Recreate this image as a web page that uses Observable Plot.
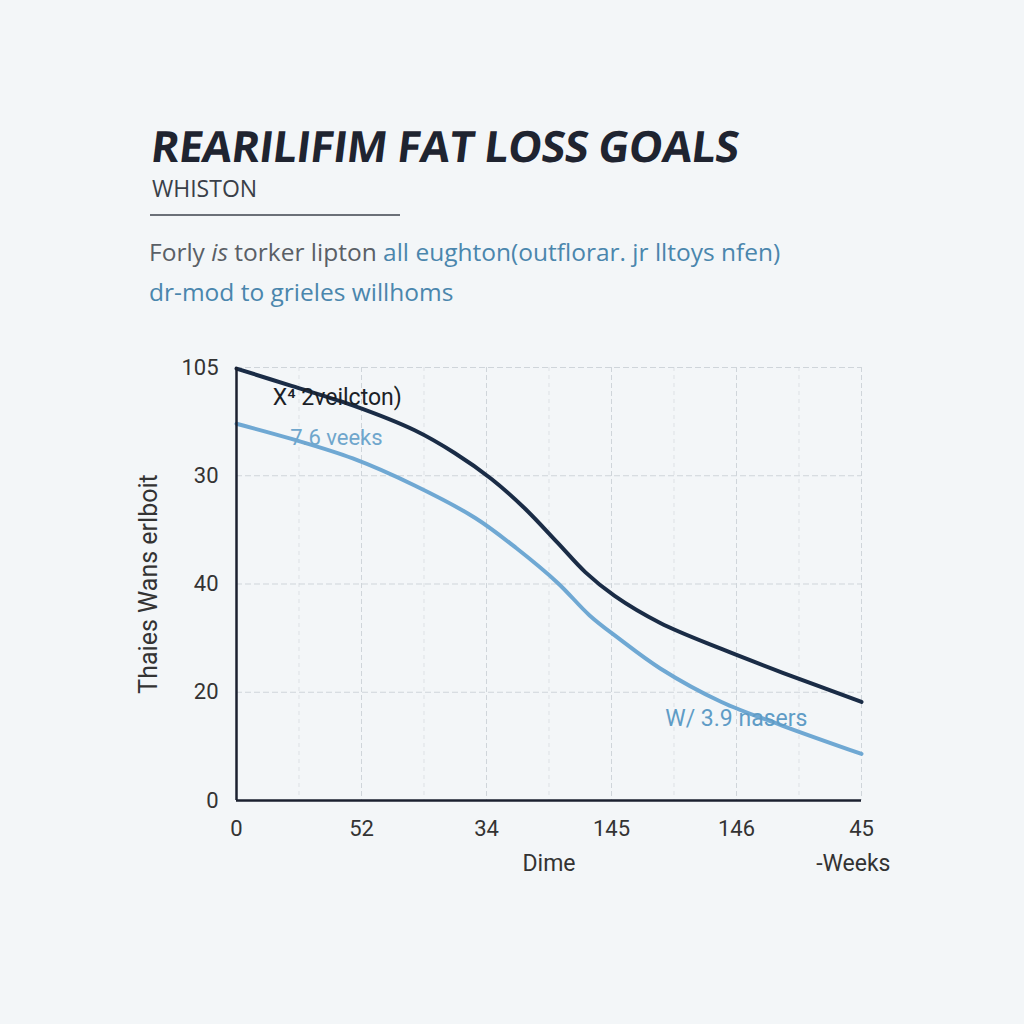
<!DOCTYPE html>
<html><head><meta charset="utf-8">
<script src="https://cdn.jsdelivr.net/npm/d3@7"></script>
<script src="https://cdn.jsdelivr.net/npm/@observablehq/plot@0.6"></script>
<style>
body{margin:0;background:#f3f6f8;width:1024px;height:1024px;overflow:hidden;font-family:"Open Sans",sans-serif}
#head{position:relative;height:340px}
#head div{position:absolute;white-space:nowrap}
.title{left:148px;top:116px;font-size:43px;font-weight:700;color:#1f2430;letter-spacing:-0.6px;transform:skewX(-7deg);transform-origin:left bottom}
.sub{left:152px;top:172px;font-size:23px;color:#3a3f48}
.rule{left:150px;top:214px;width:250px;height:0;border-top:2px solid #6b7078}
.d1{left:149px;top:235px;font-size:24.5px;color:#5a5f66}
.d2{left:149px;top:275px;font-size:24.5px;color:#4a86ad}
.blue{color:#4a86ad}
#chart svg{display:block}
</style></head><body>
<div id="head">
  <div class="title">REARILIFIM FAT LOSS GOALS</div>
  <div class="sub">WHISTON</div>
  <div class="rule"></div>
  <div class="d1">Forly <i>is</i> torker lipton <span class="blue">all eughton(outflorar. jr lltoys nfen)</span></div>
  <div class="d2">dr-mod to grieles willhoms</div>
</div>
<div id="chart"></div>
<script>
// x tick labels (positions 0..10 on grid, labels on even grid lines)
const xTickPos = [0, 2, 4, 6, 8, 10];
const xTickLabels = ["0", "52", "34", "145", "146", "45"];
// y tick labels (evenly spaced grid rows)
const yTickPos = [0, 1, 2, 3, 4];
const yTickLabels = ["0", "20", "40", "30", "105"];

// Series: dark navy curve
const darkX = [0, 0.88, 1.86, 2.85, 3.49, 4.08, 4.61, 5.14, 5.58, 6.05, 6.78, 7.76, 8.74, 10];
const darkY = [3.99, 3.83, 3.65, 3.42, 3.21, 2.97, 2.70, 2.38, 2.11, 1.89, 1.64, 1.40, 1.18, 0.91];
// Series: light blue curve
const lightX = [0, 0.88, 1.86, 2.85, 3.82, 4.48, 5.14, 5.65, 6.11, 6.78, 7.76, 8.74, 10];
const lightY = [3.48, 3.34, 3.16, 2.91, 2.61, 2.33, 2.01, 1.71, 1.50, 1.22, 0.91, 0.69, 0.43];

// Annotations
const noteText = ["X\u2074 2veilcton)", "7.6 veeks", "W/ 3.9 nasers"];
const noteX = [0.58, 0.86, 6.86];
const noteY = [3.72, 3.35, 0.76];
const noteColor = ["#1b1f27", "#6fa6cc", "#5f9cc6"];
const noteSize = [23, 22, 23];

const dark = darkX.map((x, i) => ({x, y: darkY[i]}));
const light = lightX.map((x, i) => ({x, y: lightY[i]}));
const notes = noteText.map((t, i) => ({t, x: noteX[i], y: noteY[i], c: noteColor[i], s: noteSize[i]}));
const majorX = xTickPos;
const minorX = [1, 3, 5, 7, 9];
const F = "'Liberation Sans Narrow', Roboto, sans-serif";

const chart = Plot.plot({
  width: 1024,
  height: 684,
  marginTop: 27,
  marginBottom: 224,
  marginLeft: 236,
  marginRight: 163,
  style: {background: "transparent", fontFamily: F, fontSize: "22px", color: "#333"},
  x: {domain: [0, 10], ticks: xTickPos, tickFormat: d => xTickLabels[xTickPos.indexOf(d)], tickSize: 0, tickPadding: 20, label: null},
  y: {domain: [0, 4], ticks: yTickPos, tickFormat: d => yTickLabels[yTickPos.indexOf(d)], tickSize: 0, tickPadding: 18, label: null},
  marks: [
    Plot.ruleX(minorX, {stroke: "#dde1e5", strokeDasharray: "4,4", strokeWidth: 1}),
    Plot.ruleX(majorX.slice(1), {stroke: "#cfd5da", strokeDasharray: "5,3", strokeWidth: 1}),
    Plot.ruleY([1, 2, 3, 4], {stroke: "#cfd5da", strokeDasharray: "6,3", strokeWidth: 1}),
    Plot.line(light, {x: "x", y: "y", stroke: "#6fa8d3", strokeWidth: 4, curve: "catmull-rom"}),
    Plot.line(dark, {x: "x", y: "y", stroke: "#1a2c46", strokeWidth: 4, curve: "catmull-rom"}),
    Plot.ruleX([0], {stroke: "#1b2130", strokeWidth: 2.5}),
    Plot.ruleY([0], {stroke: "#1b2130", strokeWidth: 2.5}),
    Plot.text(notes, {x: "x", y: "y", text: "t", fill: "c", fontSize: "s", textAnchor: "start", fontFamily: F}),
    Plot.text(["Thaies Wans erlboit"], {frameAnchor: "left", textAnchor: "middle", rotate: -90, dx: -88, fontSize: 25, fill: "#333", fontFamily: F}),
    Plot.text(["Dime"], {frameAnchor: "bottom", dy: 70, fontSize: 23, fill: "#333", fontFamily: F}),
    Plot.text(["-Weeks"], {frameAnchor: "bottom-right", textAnchor: "end", dy: 70, dx: 29, fontSize: 23, fill: "#333", fontFamily: F})
  ]
});
document.getElementById("chart").appendChild(chart);
</script>
</body></html>
